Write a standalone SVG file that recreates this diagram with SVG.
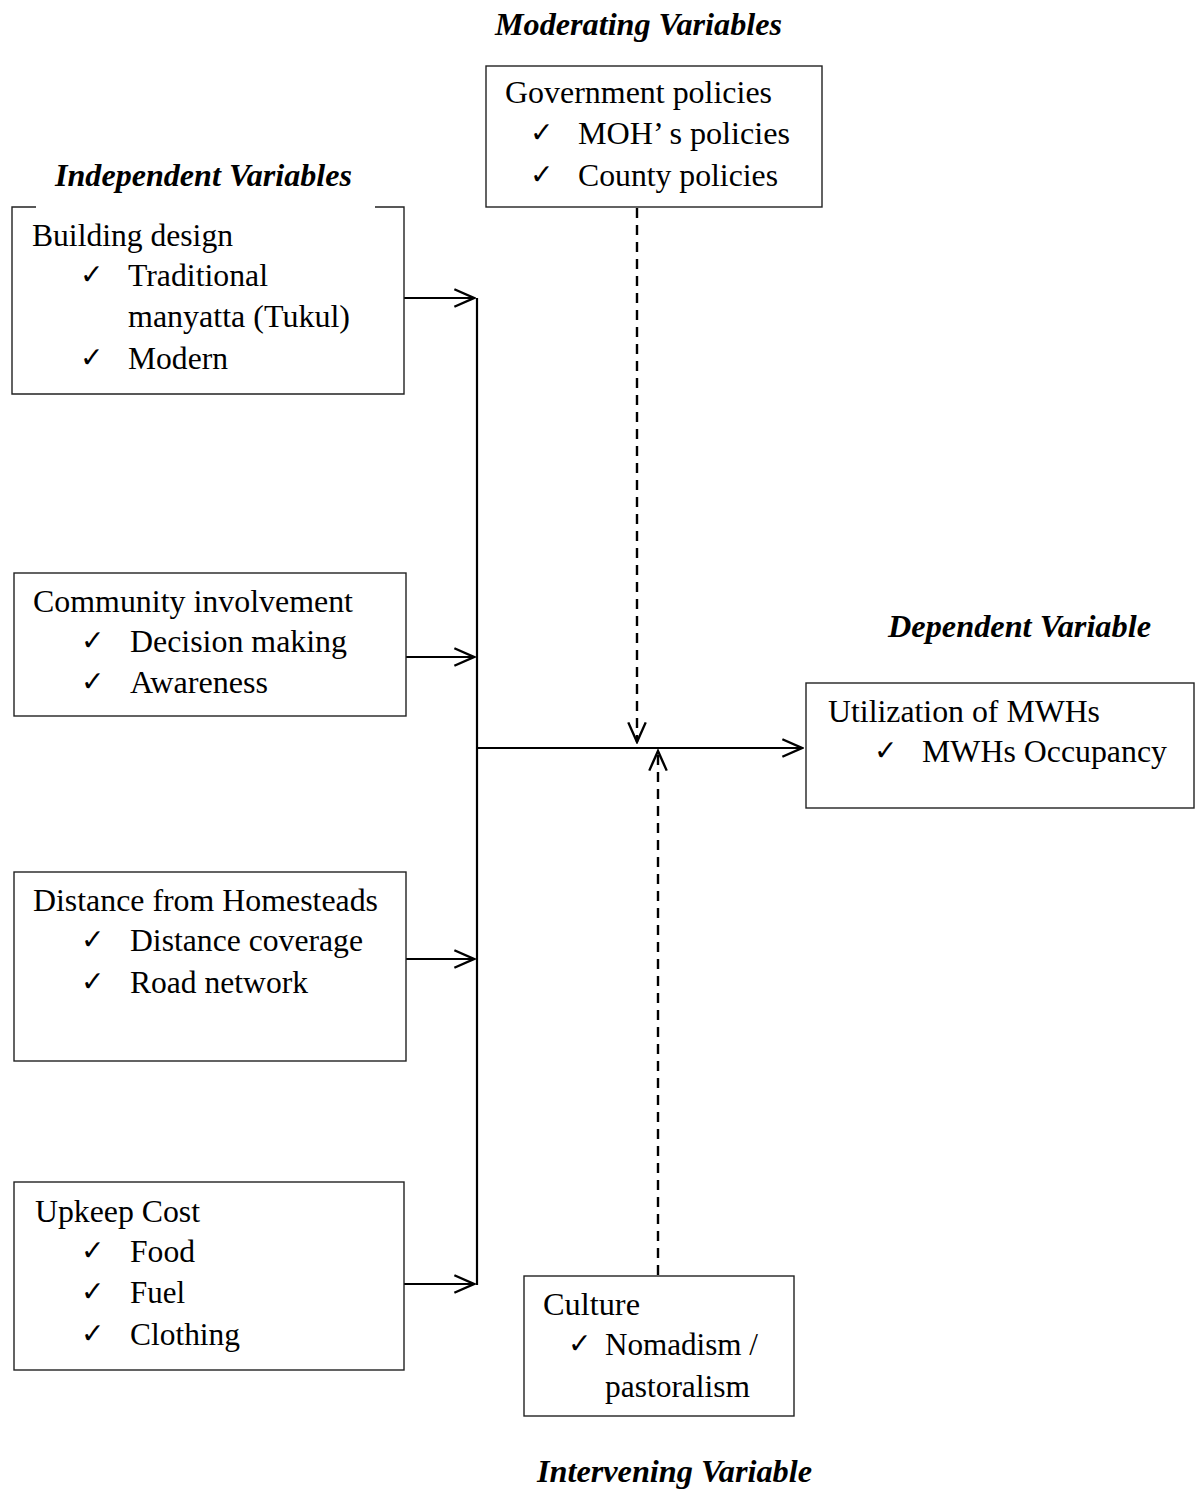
<svg xmlns="http://www.w3.org/2000/svg" width="1195" height="1496" viewBox="0 0 1195 1496">
<style>
.box{fill:#fff;stroke:#222;stroke-width:1.4}
.t{font-family:'Liberation Serif','Times New Roman',serif;font-size:30.5px;fill:#000}
.h{font-family:'Liberation Serif','Times New Roman',serif;font-size:31px;font-weight:bold;font-style:italic;fill:#000}
.ck{font-family:'DejaVu Sans',sans-serif;font-size:28px;fill:#000}
.ln{fill:none;stroke:#000;stroke-width:2.2}
.dl{fill:none;stroke:#000;stroke-width:2.4;stroke-dasharray:10 7}
</style>
<defs>
<marker id="ah" markerUnits="userSpaceOnUse" markerWidth="24" markerHeight="24" viewBox="-20 -10 22 20" refX="0" refY="0" orient="auto">
<path d="M-18,-8 L0,0 L-18,8" fill="none" stroke="#000" stroke-width="2.2"/>
</marker>
</defs>
<rect width="1195" height="1496" fill="#fff"/>

<g id="title-moderating"><text class="h" x="495" y="35" textLength="287" lengthAdjust="spacingAndGlyphs">Moderating Variables</text></g>
<g id="title-independent"><text class="h" x="55" y="186" textLength="297" lengthAdjust="spacingAndGlyphs">Independent Variables</text></g>
<g id="title-dependent"><text class="h" x="888" y="637" textLength="263" lengthAdjust="spacingAndGlyphs">Dependent Variable</text></g>
<g id="title-intervening"><text class="h" x="537" y="1482" textLength="275" lengthAdjust="spacingAndGlyphs">Intervening Variable</text></g>

<g id="connectors">
<line class="ln" x1="477" y1="298" x2="477" y2="1285"/>
<line class="ln" x1="404" y1="298" x2="474" y2="298" marker-end="url(#ah)"/>
<line class="ln" x1="406" y1="657" x2="474" y2="657" marker-end="url(#ah)"/>
<line class="ln" x1="406" y1="959" x2="474" y2="959" marker-end="url(#ah)"/>
<line class="ln" x1="404" y1="1284" x2="474" y2="1284" marker-end="url(#ah)"/>
<line class="ln" x1="477" y1="748" x2="802" y2="748" marker-end="url(#ah)"/>
<line class="dl" x1="637" y1="208" x2="637" y2="742" marker-end="url(#ah)"/>
<line class="dl" x1="658" y1="1275" x2="658" y2="751" marker-end="url(#ah)"/>
</g>

<g id="node-government">
<rect class="box" x="486" y="66" width="336" height="141"/>
<text class="t" x="505" y="103" textLength="267" lengthAdjust="spacingAndGlyphs">Government policies</text>
<text class="ck" x="530" y="142">✓</text>
<text class="t" x="578" y="144" textLength="212" lengthAdjust="spacingAndGlyphs">MOH’ s policies</text>
<text class="ck" x="530" y="184">✓</text>
<text class="t" x="578" y="186" textLength="200" lengthAdjust="spacingAndGlyphs">County policies</text>
</g>

<g id="node-building">
<path class="box" d="M36,207 H12 V394 H404 V207 H375"/>
<text class="t" x="32" y="246" textLength="201" lengthAdjust="spacingAndGlyphs">Building design</text>
<text class="ck" x="80" y="284">✓</text>
<text class="t" x="128" y="286" textLength="140" lengthAdjust="spacingAndGlyphs">Traditional</text>
<text class="t" x="128" y="327" textLength="222" lengthAdjust="spacingAndGlyphs">manyatta (Tukul)</text>
<text class="ck" x="80" y="367">✓</text>
<text class="t" x="128" y="369" textLength="100" lengthAdjust="spacingAndGlyphs">Modern</text>
</g>

<g id="node-community">
<rect class="box" x="14" y="573" width="392" height="143"/>
<text class="t" x="33" y="612" textLength="320" lengthAdjust="spacingAndGlyphs">Community involvement</text>
<text class="ck" x="81" y="650">✓</text>
<text class="t" x="130" y="652" textLength="217" lengthAdjust="spacingAndGlyphs">Decision making</text>
<text class="ck" x="81" y="691">✓</text>
<text class="t" x="130" y="693" textLength="138" lengthAdjust="spacingAndGlyphs">Awareness</text>
</g>

<g id="node-distance">
<rect class="box" x="14" y="872" width="392" height="189"/>
<text class="t" x="33" y="911" textLength="345" lengthAdjust="spacingAndGlyphs">Distance from Homesteads</text>
<text class="ck" x="81" y="949">✓</text>
<text class="t" x="130" y="951" textLength="233" lengthAdjust="spacingAndGlyphs">Distance coverage</text>
<text class="ck" x="81" y="991">✓</text>
<text class="t" x="130" y="993" textLength="178" lengthAdjust="spacingAndGlyphs">Road network</text>
</g>

<g id="node-upkeep">
<rect class="box" x="14" y="1182" width="390" height="188"/>
<text class="t" x="35" y="1222" textLength="165" lengthAdjust="spacingAndGlyphs">Upkeep Cost</text>
<text class="ck" x="81" y="1260">✓</text>
<text class="t" x="130" y="1262" textLength="65" lengthAdjust="spacingAndGlyphs">Food</text>
<text class="ck" x="81" y="1301">✓</text>
<text class="t" x="130" y="1303" textLength="55" lengthAdjust="spacingAndGlyphs">Fuel</text>
<text class="ck" x="81" y="1343">✓</text>
<text class="t" x="130" y="1345" textLength="110" lengthAdjust="spacingAndGlyphs">Clothing</text>
</g>

<g id="node-utilization">
<rect class="box" x="806" y="683" width="388" height="125"/>
<text class="t" x="828" y="722" textLength="272" lengthAdjust="spacingAndGlyphs">Utilization of MWHs</text>
<text class="ck" x="874" y="760">✓</text>
<text class="t" x="922" y="762" textLength="245" lengthAdjust="spacingAndGlyphs">MWHs Occupancy</text>
</g>

<g id="node-culture">
<rect class="box" x="524" y="1276" width="270" height="140"/>
<text class="t" x="543" y="1315" textLength="97" lengthAdjust="spacingAndGlyphs">Culture</text>
<text class="ck" x="568" y="1353">✓</text>
<text class="t" x="605" y="1355" textLength="153" lengthAdjust="spacingAndGlyphs">Nomadism /</text>
<text class="t" x="605" y="1397" textLength="145" lengthAdjust="spacingAndGlyphs">pastoralism</text>
</g>
</svg>
